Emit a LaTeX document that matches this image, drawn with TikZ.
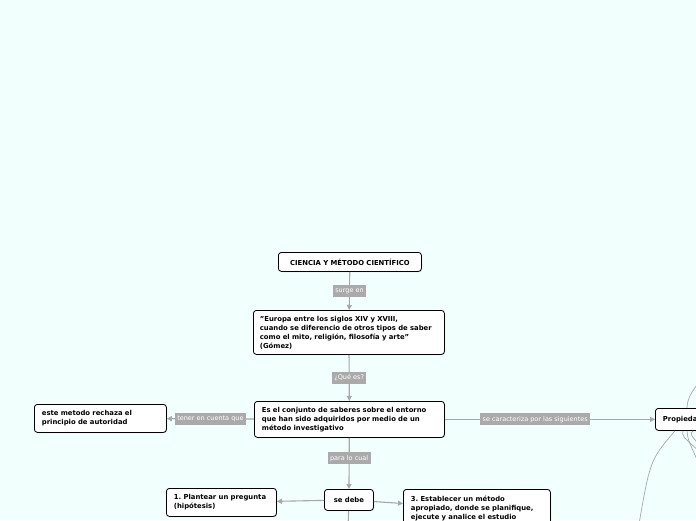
\documentclass[tikz,border=0pt]{standalone}
\usepackage{fontspec}
\setmainfont{DejaVu Sans}
\usepackage{tikz}
\usetikzlibrary{positioning,arrows.meta,shadows}

\definecolor{bgmint}{RGB}{241,255,253}
\definecolor{linkgray}{RGB}{168,168,168}
\definecolor{taggray}{RGB}{170,170,170}
\frenchspacing

\begin{document}
\begin{tikzpicture}[
    x=1pt, y=-1pt,
    topic/.style  = {draw,rounded corners=3pt,line width=0.8pt,fill=white,anchor=north west,
                     drop shadow={shadow xshift=0.8pt,shadow yshift=-0.8pt,fill=black!35},
                     font=\bfseries\fontsize{6.85}{9}\selectfont,align=left,inner xsep=7.5pt,inner ysep=4pt},
    tag/.style    = {fill=taggray,text=white,font=\fontsize{6.5}{7}\selectfont,inner xsep=2.5pt,inner ysep=2pt,
                     minimum height=12pt},
    link/.style   = {draw=linkgray,line width=1.1pt},
    arr/.style    = {link,-{Triangle[length=5pt,width=5pt]}},
    curve/.style  = {draw=linkgray,line width=0.7pt}
  ]

  \fill[bgmint] (0,0) rectangle (696,520);
  \useasboundingbox (0,0) rectangle (696,520);

  % main trunk
  \node[topic,minimum width=143pt,minimum height=19pt,align=center] (ciencia) at (278,252) {CIENCIA Y MÉTODO CIENTÍFICO};
  \node[topic,text width=178pt,minimum height=44pt,inner xsep=6.5pt] (europa) at (253,310)
    {"Europa entre los siglos XIV y XVIII,\\cuando se diferencio de otros tipos de saber\\como el mito, religión, filosofía y arte"\\(Gómez)};
  \node[topic,text width=175pt,minimum height=36pt] (conjunto) at (254,401)
    {Es el conjunto de saberes sobre el entorno\\que han sido adquiridos por medio de un\\método investigativo};

  % branches
  \node[topic,text width=117pt,minimum height=28pt] (autoridad) at (34,404)
    {este metodo rechaza el\\principio de autoridad};
  \node[topic,text width=70pt,minimum height=22pt] (propiedades) at (655,408) {Propiedades};
  \node[topic,minimum width=49pt,minimum height=21pt,align=center,inner xsep=4pt] (sedebe) at (324,489) {se debe};
  \node[topic,text width=95pt,minimum height=28pt] (paso1) at (166,488)
    {1. Plantear un pregunta\\(hipótesis)};
  \node[topic,text width=132pt,minimum height=38pt] (paso3) at (403,489)
    {3. Establecer un método\\apropiado, donde se planifique,\\ejecute y analice el estudio};

  % connectors
  \draw[arr] (ciencia) -- node[tag] {surge en} (europa);
  \draw[arr] (europa) -- node[tag] {¿Qué es?} (conjunto);
  \draw[arr] (conjunto) -- node[tag] {tener en cuenta que} (autoridad);
  \draw[arr] (conjunto) -- node[tag,pos=0.43] {se caracteriza por las siguientes} (propiedades);
  \draw[arr] (conjunto) -- node[tag,pos=0.4] {para lo cual} (sedebe);
  \draw[arr] (sedebe) -- (paso1);
  \draw[arr] (sedebe) -- (paso3);
  \coordinate (abajo) at (348,530);
  \draw[link] (sedebe) -- (abajo);

  % curves leaving Propiedades
  \coordinate (pr1) at (700,380);
  \coordinate (pr2) at (700,452);
  \coordinate (pr3) at (700,466);
  \coordinate (pr4) at (700,446);
  \coordinate (pr5) at (638,530);
  \draw[curve] (propiedades.north west) ++(32,0) .. controls (688,398) .. (pr1);
  \draw[curve] (propiedades.south west) ++(28,0) .. controls (682,436) .. (pr2);
  \draw[curve] (propiedades.south west) ++(32,0) .. controls (688,440) .. (pr3);
  \draw[curve] (propiedades.south west) ++(38,0) .. controls (690,434) .. (pr4);
  \draw[curve] (propiedades.south west) ++(20,0) .. controls (650,460) .. (pr5);

\end{tikzpicture}
\end{document}
